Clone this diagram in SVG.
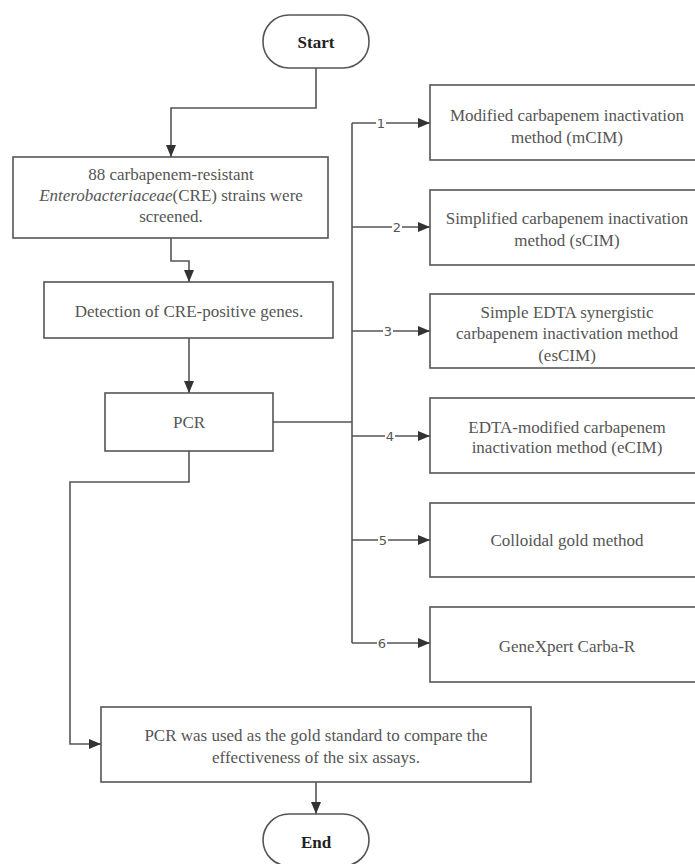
<svg xmlns="http://www.w3.org/2000/svg" width="695" height="864" viewBox="0 0 695 864">
<defs>
<marker id="ah" viewBox="0 0 12 10" refX="12" refY="5" markerWidth="12" markerHeight="10" markerUnits="userSpaceOnUse" orient="auto">
<path d="M0,0 L12,5 L0,10 z" fill="#333"/>
</marker>
<style>
.box{fill:#fff;stroke:#555;stroke-width:1.6}
.t{font-family:"Liberation Serif","Times New Roman",serif;font-size:17px;fill:#555;text-anchor:middle}
.b{font-family:"Liberation Serif","Times New Roman",serif;font-size:17px;font-weight:bold;fill:#222;text-anchor:middle}
.c{fill:none;stroke:#555;stroke-width:1.6}
.lbl{font-family:"DejaVu Sans",sans-serif;font-size:13px;fill:#555;text-anchor:middle}
.lb{fill:#fff}
</style>
</defs>
<rect width="695" height="864" fill="#fff"/>
<g id="connectors">
<path class="c" d="M316,68 V108 H171 V157" marker-end="url(#ah)"/>
<path class="c" d="M171,238 V261 H189 V282" marker-end="url(#ah)"/>
<path class="c" d="M189,338 V393" marker-end="url(#ah)"/>
<path class="c" d="M273,422 H352"/>
<path class="c" d="M352,123 V643"/>
<path class="c" d="M352,123 H430" marker-end="url(#ah)"/>
<path class="c" d="M352,227 H430" marker-end="url(#ah)"/>
<path class="c" d="M352,331 H430" marker-end="url(#ah)"/>
<path class="c" d="M352,436 H430" marker-end="url(#ah)"/>
<path class="c" d="M352,540 H430" marker-end="url(#ah)"/>
<path class="c" d="M352,643 H430" marker-end="url(#ah)"/>
<path class="c" d="M189,451 V482 H70 V744 H101" marker-end="url(#ah)"/>
<path class="c" d="M316,782 V814" marker-end="url(#ah)"/>
<rect class="lb" x="376" y="115" width="10" height="16"/>
<text class="lbl" x="381" y="128">1</text>
<rect class="lb" x="392" y="219" width="10" height="16"/>
<text class="lbl" x="397" y="232">2</text>
<rect class="lb" x="383" y="323" width="10" height="16"/>
<text class="lbl" x="388" y="336">3</text>
<rect class="lb" x="385" y="428" width="10" height="16"/>
<text class="lbl" x="390" y="441">4</text>
<rect class="lb" x="378" y="532" width="10" height="16"/>
<text class="lbl" x="383" y="545">5</text>
<rect class="lb" x="377" y="635" width="10" height="16"/>
<text class="lbl" x="382" y="648">6</text>
</g>
<g id="start">
<rect class="box" x="263" y="15" width="106" height="53" rx="26" ry="26"/>
<text class="b" x="316" y="48">Start</text>
</g>
<g id="screen">
<rect class="box" x="13" y="157" width="315" height="81"/>
<text class="t" x="171" y="180">88 carbapenem-resistant</text>
<text class="t" x="171" y="201"><tspan font-style="italic">Enterobacteriaceae</tspan>(CRE) strains were</text>
<text class="t" x="171" y="222">screened.</text>
</g>
<g id="detect">
<rect class="box" x="44" y="282" width="289" height="56"/>
<text class="t" x="189" y="317">Detection of CRE-positive genes.</text>
</g>
<g id="pcr">
<rect class="box" x="105" y="393" width="168" height="58"/>
<text class="t" x="189" y="428">PCR</text>
</g>
<g id="m1">
<rect class="box" x="430" y="85" width="275" height="75"/>
<text class="t" x="567" y="121">Modified carbapenem inactivation</text>
<text class="t" x="567" y="143">method (mCIM)</text>
</g>
<g id="m2">
<rect class="box" x="430" y="190" width="275" height="75"/>
<text class="t" x="567" y="224">Simplified carbapenem inactivation</text>
<text class="t" x="567" y="246">method (sCIM)</text>
</g>
<g id="m3">
<rect class="box" x="430" y="294" width="275" height="74"/>
<text class="t" x="567" y="318">Simple EDTA synergistic</text>
<text class="t" x="567" y="339">carbapenem inactivation method</text>
<text class="t" x="567" y="361">(esCIM)</text>
</g>
<g id="m4">
<rect class="box" x="430" y="398" width="275" height="75"/>
<text class="t" x="567" y="433">EDTA-modified carbapenem</text>
<text class="t" x="567" y="453">inactivation method (eCIM)</text>
</g>
<g id="m5">
<rect class="box" x="430" y="503" width="275" height="74"/>
<text class="t" x="567" y="546">Colloidal gold method</text>
</g>
<g id="m6">
<rect class="box" x="430" y="607" width="275" height="75"/>
<text class="t" x="567" y="652">GeneXpert Carba-R</text>
</g>
<g id="compare">
<rect class="box" x="101" y="707" width="430" height="75"/>
<text class="t" x="316" y="741">PCR was used as the gold standard to compare the</text>
<text class="t" x="316" y="763">effectiveness of the six assays.</text>
</g>
<g id="end">
<rect class="box" x="263" y="814" width="106" height="52" rx="26" ry="26"/>
<text class="b" x="316" y="848">End</text>
</g>
</svg>
